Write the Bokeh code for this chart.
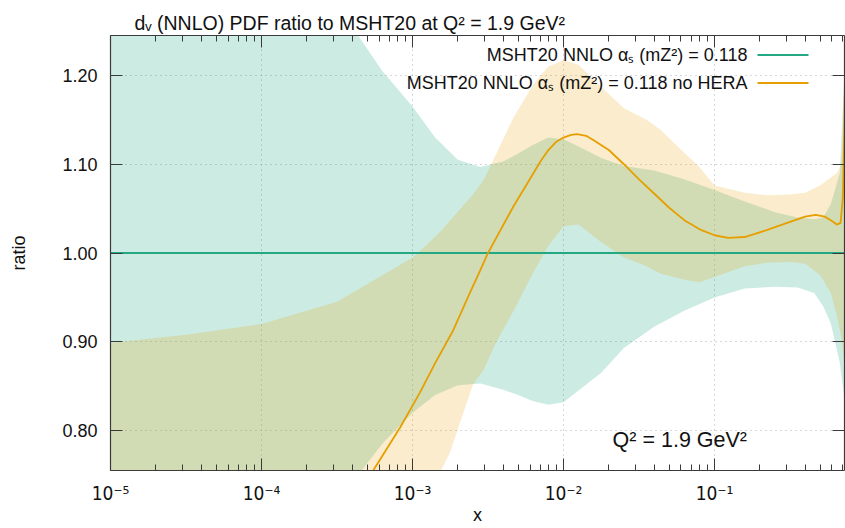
import numpy as np
from bokeh.plotting import figure
from bokeh.models import (FixedTicker, LogAxis, LinearAxis, Label, BoxAnnotation,
                          PrintfTickFormatter, Title)
from bokeh.embed import file_html
from bokeh.resources import INLINE

# ---------------- data ----------------
# MSHT20 NNLO band (ratio to itself), log10(x) grid
msht_lx = [-5.0, -4.5, -4.0, -3.6, -3.36, -3.2, -3.0, -2.85, -2.7, -2.55, -2.4, -2.3,
           -2.2, -2.1, -2.0, -1.9, -1.75, -1.6, -1.4, -1.2, -1.0, -0.8, -0.6, -0.45,
           -0.34, -0.28, -0.23, -0.17, -0.135]
msht_up = [1.60, 1.50, 1.40, 1.30, 1.245, 1.205, 1.165, 1.13, 1.105, 1.097, 1.103, 1.112,
           1.122, 1.13, 1.128, 1.12, 1.107, 1.098, 1.093, 1.083, 1.071, 1.058, 1.046, 1.040,
           1.038, 1.040, 1.055, 1.09, 1.22]
msht_lo = [0.40, 0.50, 0.60, 0.69, 0.75, 0.785, 0.82, 0.84, 0.851, 0.853, 0.846, 0.840,
           0.833, 0.829, 0.832, 0.845, 0.865, 0.893, 0.917, 0.935, 0.950, 0.960, 0.962, 0.961,
           0.955, 0.940, 0.921, 0.876, 0.83]
msht_line_x = [1e-5, 0.735]
msht_central = [1.0, 1.0]

# MSHT20 NNLO no HERA band
nohera_lx = [-5.0, -4.5, -4.0, -3.5, -3.0, -2.9, -2.81, -2.75, -2.6, -2.53, -2.45, -2.33,
             -2.2, -2.1, -2.0, -1.9, -1.75, -1.6, -1.45, -1.36, -1.2, -1.1, -1.0, -0.8,
             -0.65, -0.5, -0.4, -0.3, -0.23, -0.19, -0.16, -0.145, -0.135]
nohera_up = [0.899, 0.908, 0.920, 0.945, 0.995, 1.010, 1.025, 1.037, 1.066, 1.082, 1.110, 1.153,
             1.190, 1.210, 1.217, 1.212, 1.187, 1.163, 1.150, 1.139, 1.113, 1.097, 1.076, 1.068,
             1.065, 1.066, 1.068, 1.076, 1.085, 1.090, 1.100, 1.160, 1.30]
nohera_lo = [0.30, 0.38, 0.46, 0.56, 0.67, 0.715, 0.755, 0.776, 0.852, 0.868, 0.898, 0.935,
             0.978, 1.008, 1.030, 1.032, 1.012, 0.995, 0.985, 0.977, 0.970, 0.967, 0.973, 0.985,
             0.989, 0.990, 0.988, 0.975, 0.955, 0.930, 0.905, 0.880, 0.86]

# MSHT20 NNLO no HERA central ratio
nohera_c_lx = [-3.4, -3.26, -3.08, -2.95, -2.85, -2.73, -2.62, -2.55, -2.5, -2.42, -2.33,
               -2.22, -2.15, -2.1, -2.05, -2.0, -1.95, -1.91, -1.85, -1.8, -1.7, -1.6, -1.5,
               -1.4, -1.3, -1.2, -1.09, -1.0, -0.91, -0.8, -0.65, -0.5, -0.4, -0.33, -0.27,
               -0.23, -0.19, -0.165, -0.15, -0.14, -0.135]
nohera_c = [0.725, 0.755, 0.804, 0.843, 0.876, 0.913, 0.955, 0.981, 1.000, 1.025, 1.053,
            1.084, 1.104, 1.116, 1.125, 1.130, 1.133, 1.134, 1.132, 1.127, 1.116, 1.100, 1.083,
            1.067, 1.051, 1.037, 1.026, 1.020, 1.017, 1.018, 1.026, 1.035, 1.041, 1.043, 1.041,
            1.037, 1.032, 1.034, 1.063, 1.14, 1.20]

x_tick_exps = [-5, -4, -3, -2, -1]
y_ticks = [0.80, 0.90, 1.00, 1.10, 1.20]

GREEN = "#009e73"
GREEN_LINE = "#22a882"
ORANGE = "#e69f00"
FONT = "Liberation Sans"
NARROW = "Liberation Sans Narrow, DejaVu Sans Condensed, sans-serif"

# ---------------- figure ----------------
p = figure(width=845, height=528, x_axis_type="log",
           x_range=(1e-5, 0.726), y_range=(0.755, 1.245),
           output_backend="svg", toolbar_location=None,
           min_border_left=110, min_border_right=1, min_border_top=35, min_border_bottom=58)
p.outline_line_color = None
p.background_fill_color = "white"
p.border_fill_color = "white"

p.title = Title(text="d\u1d65 (NNLO) PDF ratio to MSHT20 at Q\u00b2 = 1.9 GeV\u00b2",
                text_font=FONT, text_font_size="19.5px", text_font_style="normal",
                text_color="#111111", align="left", offset=24, standoff=4)

def band(lx, up, lo, color):
    xs = [10 ** v for v in lx]
    px = xs + xs[::-1]
    py = list(up) + list(lo)[::-1]
    p.patch(px, py, fill_color=color, fill_alpha=0.2, line_color=None)

band(msht_lx, msht_up, msht_lo, GREEN)
band(nohera_lx, nohera_up, nohera_lo, ORANGE)

p.line(msht_line_x, msht_central, line_color=GREEN_LINE, line_width=2.2)
p.line([10 ** v for v in nohera_c_lx], nohera_c, line_color=ORANGE, line_width=1.8,
       line_join="round")

# ---------------- axes ----------------
major_x = [10.0 ** e for e in x_tick_exps]
minor_x = [m * 10.0 ** e for e in range(-5, 0) for m in range(2, 10)]
xticker = FixedTicker(ticks=major_x, minor_ticks=minor_x)
yticker = FixedTicker(ticks=y_ticks, minor_ticks=[])

sup = {"-": "\u207b", "0": "\u2070", "1": "\u00b9", "2": "\u00b2", "3": "\u00b3",
       "4": "\u2074", "5": "\u2075"}
xlabels = {10.0 ** e: "10" + "".join(sup[c] for c in str(e)) for e in x_tick_exps}

bottom = p.below[0]
left = p.left[0]
bottom.ticker = xticker
bottom.major_label_overrides = xlabels
left.ticker = yticker
left.formatter = PrintfTickFormatter(format="%.2f")

top = LogAxis(ticker=xticker, major_label_overrides={t: "" for t in major_x},
              major_label_standoff=0)
right = LinearAxis(ticker=yticker, major_label_overrides={t: "" for t in y_ticks},
                   major_label_standoff=0)
p.add_layout(top, "above")
p.add_layout(right, "right")

AX = "#3a3a3a"
for ax in [bottom, left, top, right]:
    ax.axis_line_color = AX
    ax.axis_line_width = 1.2
    ax.major_tick_line_color = AX
    ax.minor_tick_line_color = AX
    ax.major_tick_in = 12
    ax.major_tick_out = 0
    ax.minor_tick_in = 6
    ax.minor_tick_out = 0
for ax in [left, right]:
    ax.minor_tick_line_color = None

bottom.major_label_text_font = NARROW
bottom.major_label_text_font_size = "19px"
bottom.major_label_text_color = "#111111"
bottom.major_label_standoff = 11
bottom.axis_label = "x"
bottom.axis_label_text_font = NARROW
bottom.axis_label_text_font_style = "normal"
bottom.axis_label_text_font_size = "18px"
bottom.axis_label_text_color = "#111111"
bottom.axis_label_standoff = -3

left.major_label_text_font = FONT
left.major_label_text_font_size = "18px"
left.major_label_text_color = "#111111"
left.major_label_standoff = 13
left.axis_label = "ratio"
left.axis_label_text_font = FONT
left.axis_label_text_font_style = "normal"
left.axis_label_text_font_size = "18px"
left.axis_label_text_color = "#111111"
left.axis_label_standoff = 30

for g in (p.xgrid[0], p.ygrid[0]):
    g.grid_line_color = "#b0b0b0"
    g.grid_line_dash = "1 4"
    g.grid_line_width = 1
p.xgrid[0].ticker = xticker
p.ygrid[0].ticker = yticker

# ---------------- texts ----------------
p.add_layout(Label(x=10 ** -1.675, y=0.789, text="Q\u00b2 = 1.9 GeV\u00b2",
                   text_font=FONT, text_font_size="21.5px", text_color="#111111",
                   text_baseline="middle", text_align="left"))

leg_x_text = 10 ** -0.7815
leg_x0, leg_x1 = 10 ** -0.715, 10 ** -0.3775
leg_rows = [(1.2231, "MSHT20 NNLO \u03b1\u209b (mZ\u00b2) = 0.118", GREEN_LINE),
            (1.1915, "MSHT20 NNLO \u03b1\u209b (mZ\u00b2) = 0.118 no HERA", ORANGE)]
for yv, txt, col in leg_rows:
    p.add_layout(Label(x=leg_x_text, y=yv, text=txt, text_font=FONT, text_font_size="18px",
                       text_color="#111111", text_baseline="middle", text_align="right"))
    p.add_layout(BoxAnnotation(left=leg_x0, right=leg_x1, bottom=yv - 0.0011, top=yv + 0.0011,
                               fill_color=col, fill_alpha=1.0, line_color=None))

open("out.html", "w").write(file_html(p, INLINE))
